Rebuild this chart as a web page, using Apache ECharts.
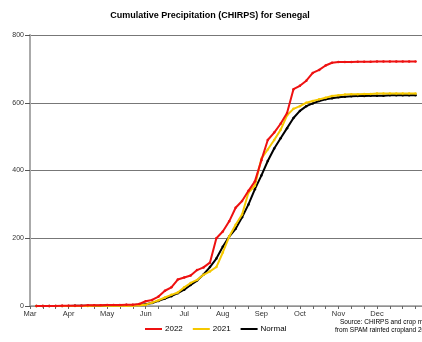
<!DOCTYPE html>
<html>
<head>
<meta charset="utf-8">
<script src="https://cdn.jsdelivr.net/npm/echarts@6/dist/echarts.min.js"></script>
<style>html,body{margin:0;padding:0;background:#fff}#c{width:422px;height:342px}</style>
</head>
<body>
<div id="c"></div>
<script>
// pentads 1..60, March through December
const monthLabels = ['Mar','Apr','May','Jun','Jul','Aug','Sep','Oct','Nov','Dec'];
const seriesNames = ['2022','2021','Normal'];
const values2022 = [0,0,0,0,1,1,1,1,2,2,2,3,3,3,4,4,6,14,18,28,45,55,78,84,90,106,114,128,200,220,250,290,310,340,368,430,490,512,538,570,640,650,665,688,697,710,718,720,720,720,721,721,721,722,722,722,722,722,722,722];
const values2021 = [0,0,0,0,0,0,0,0,0,1,1,1,1,1,1,1,2,4,10,17,25,33,40,55,68,77,92,102,115,158,205,240,270,335,355,435,462,490,520,563,582,590,600,605,610,615,620,622,624,625,625,626,626,627,627,627,627,627,627,627];
const valuesNormal = [0,0,0,0,0,0,1,1,1,1,1,2,2,2,3,3,4,5,9,15,22,29,38,48,62,75,93,115,140,175,205,228,262,300,345,385,428,465,495,525,555,576,590,598,605,610,613,616,618,619,620,620,621,621,621,622,622,622,622,622];
const yTicks = [0,200,400,600,800];
const colors = ['#ee1111','#f5c800','#000000'];

const toPts = arr => arr.map((v,i)=>[i+1, v]);
const chart = echarts.init(document.getElementById('c'), null, {renderer:'canvas'});
const font = 'Liberation Sans, Arial, sans-serif';
const mk = (name, arr, color, z) => ({
  name, type:'line', data: toPts(arr), z,
  symbol:'circle', symbolSize:2.5, showSymbol:true,
  itemStyle:{color}, lineStyle:{color, width:2}, animation:false
});
chart.setOption({
  animation:false,
  title:{text:'Cumulative Precipitation (CHIRPS) for Senegal', left:205, top:6, textAlign:'center',
    textStyle:{fontFamily:font, fontSize:9, fontWeight:'bold', color:'#000'}},
  grid:{left:30, right:0, top:35, bottom:36},
  xAxis:{type:'value', min:0, max:61, interval:2,
    axisLine:{lineStyle:{color:'#999', width:1.5}},
    axisTick:{show:true, length:3, lineStyle:{color:'#666'}},
    splitLine:{show:false},
    axisLabel:{fontFamily:font, fontSize:7.5, color:'#333', margin:4, showMaxLabel:false,
      formatter:v => (v%6===0 && v/6 < monthLabels.length) ? monthLabels[v/6] : ''}},
  yAxis:{type:'value', min:yTicks[0], max:yTicks[yTicks.length-1], interval:200,
    axisLine:{show:true, lineStyle:{color:'#aaa', width:2}},
    axisTick:{show:true, length:5, lineStyle:{color:'#555'}},
    splitLine:{show:true, lineStyle:{color:'#777', width:1}},
    axisLabel:{fontFamily:font, fontSize:7, color:'#333', margin:6}},
  legend:{bottom:4, left:140, itemGap:10, itemWidth:17, itemHeight:2, icon:'rect',
    data:seriesNames, textStyle:{fontFamily:font, fontSize:8, color:'#000', padding:[0,0,0,-2]}},
  graphic:[
    {type:'text', left:340, top:319, style:{text:'Source: CHIRPS and crop mask', font:'6.5px '+font, fill:'#000'}},
    {type:'text', left:335, top:327, style:{text:'from SPAM rainfed cropland 2010', font:'6.5px '+font, fill:'#000'}}
  ],
  series:[ mk(seriesNames[2], valuesNormal, colors[2], 3), mk(seriesNames[1], values2021, colors[1], 4), mk(seriesNames[0], values2022, colors[0], 5) ]
});
</script>
</body>
</html>
